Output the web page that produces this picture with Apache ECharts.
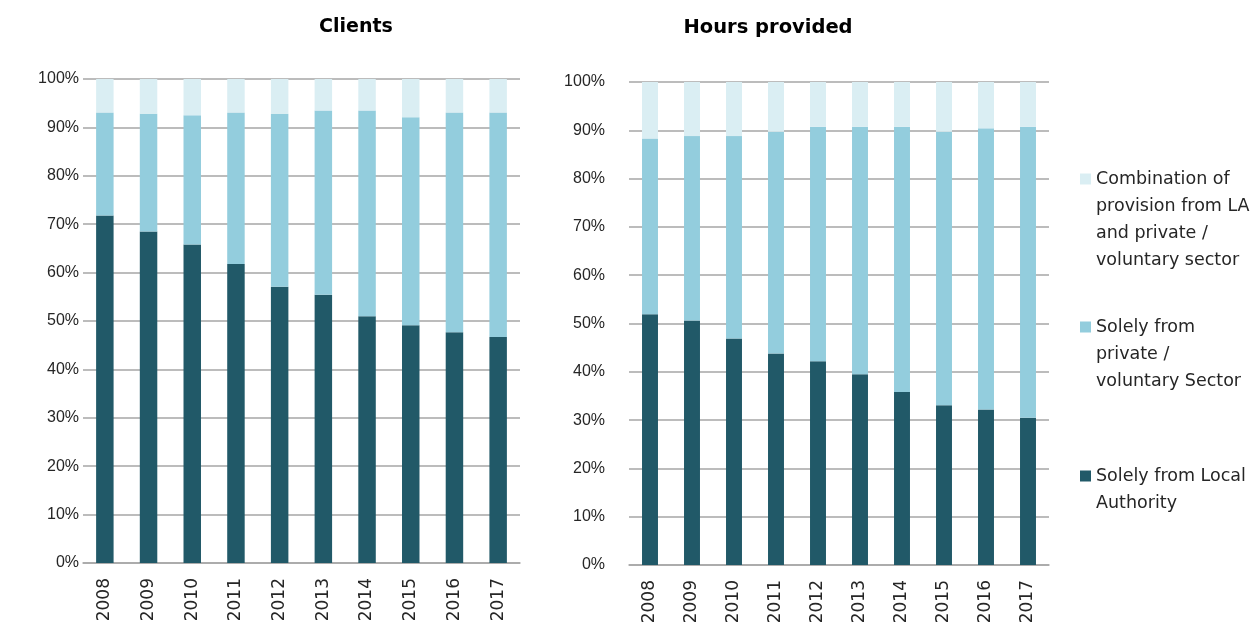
<!DOCTYPE html>
<html><head><meta charset="utf-8">
<script src="https://cdn.jsdelivr.net/npm/echarts@6/dist/echarts.min.js"></script>
<style>html,body{margin:0;padding:0;background:#fff}#c{width:1257px;height:628px}</style>
</head><body><div id="c"></div>
<script>
const years = ['2008','2009','2010','2011','2012','2013','2014','2015','2016','2017'];
const seriesNames = ['Solely from Local Authority','Solely from private / voluntary Sector','Combination of provision from LA and private / voluntary sector'];
const legendLabels = ['Solely from Local\nAuthority','Solely from\nprivate /\nvoluntary Sector','Combination of\nprovision from LA\nand private /\nvoluntary sector'];
const clientsLA      = [71.8, 68.5, 65.8, 61.8, 57.1, 55.4, 51.0, 49.1, 47.7, 46.7];
const clientsPrivate = [21.3, 24.3, 26.7, 31.3, 35.7, 38.1, 42.5, 43.0, 45.4, 46.4];
const clientsCombo   = [6.9, 7.2, 7.5, 6.9, 7.2, 6.5, 6.5, 7.9, 6.9, 6.9];
const hoursLA        = [51.9, 50.6, 46.9, 43.8, 42.2, 39.5, 35.8, 33.1, 32.2, 30.5];
const hoursPrivate   = [36.4, 38.2, 41.9, 45.9, 48.5, 51.2, 54.9, 56.6, 58.2, 60.2];
const hoursCombo     = [11.7, 11.2, 11.2, 10.3, 9.3, 9.3, 9.3, 10.3, 9.6, 9.3];
const titles = ['Clients','Hours provided'];
const colors = ['#215968','#93CDDD','#DAEEF3'];

const FONT = 'Liberation Sans';
const WIDE = 'DejaVu Sans';
const TXT = '#262626';
const chart = echarts.init(document.getElementById('c'));
function xAxis(gi){return {type:'category',gridIndex:gi,data:years,
  axisTick:{show:false},axisLine:{lineStyle:{color:'#a6a6a6',width:1.5}},
  axisLabel:{rotate:90,margin:15,fontSize:17,color:TXT,fontFamily:WIDE}};}
function yAxis(gi,margin){return {type:'value',gridIndex:gi,min:0,max:100,interval:10,
  axisLabel:{formatter:'{value}%',fontSize:16,color:TXT,fontFamily:FONT,margin:margin},
  axisLine:{show:false},axisTick:{show:false},
  splitLine:{lineStyle:{color:'#a6a6a6',width:1.5}}};}
const series = [];
const sets = [[clientsLA,clientsPrivate,clientsCombo],[hoursLA,hoursPrivate,hoursCombo]];
sets.forEach((arr,gi)=>{
  arr.forEach((d,si)=>{
    series.push({type:'bar',name:seriesNames[si],xAxisIndex:gi,yAxisIndex:gi,stack:'s'+gi,
      data:d,barWidth:gi===0?'40%':'38%',itemStyle:{color:colors[si]},emphasis:{disabled:true}});
  });
});
function legend(idx,top){
  const n = legendLabels[idx].split('\n').length;
  const label = '\n'.repeat(n-1) + legendLabels[idx];
  return {data:[seriesNames[idx]],left:1080,top:top,padding:0,orient:'vertical',icon:'rect',
    itemWidth:11,itemHeight:11,itemGap:6,selectedMode:false,
    formatter:()=>label,
    textStyle:{fontSize:17.5,lineHeight:27,color:TXT,fontFamily:WIDE}};
}
chart.setOption({
  animation:false,
  color:colors,
  title:[
    {text:titles[0],left:351,top:13,textAlign:'center',textStyle:{fontSize:19,fontWeight:'bold',color:'#000',fontFamily:WIDE}},
    {text:titles[1],left:763,top:13,textAlign:'center',textStyle:{fontSize:19.5,fontWeight:'bold',color:'#000',fontFamily:WIDE}}
  ],
  grid:[
    {left:83,top:79,width:437,height:484},
    {left:629,top:82,width:420,height:483}
  ],
  xAxis:[xAxis(0),xAxis(1)],
  yAxis:[yAxis(0,4),yAxis(1,24)],
  legend:[legend(2,84.5),legend(1,259.5),legend(0,435.5)],
  series:series
});
</script></body></html>
